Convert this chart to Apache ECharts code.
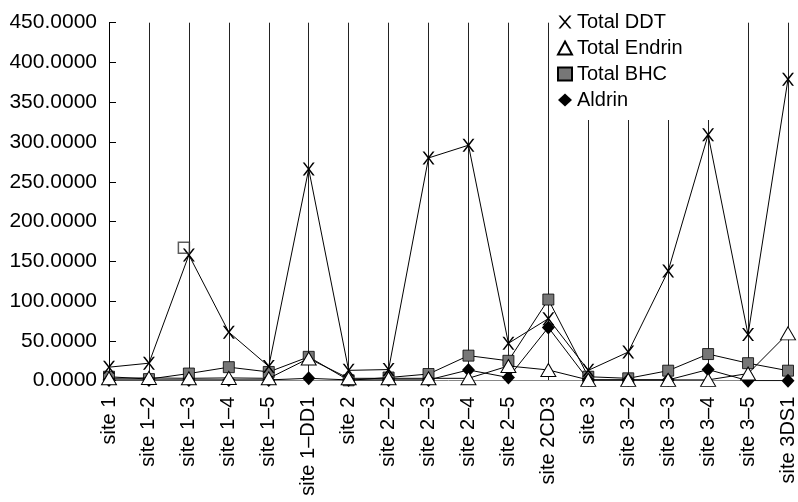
<!DOCTYPE html>
<html>
<head>
<meta charset="utf-8">
<script src="https://cdn.jsdelivr.net/npm/echarts@6/dist/echarts.min.js"></script>
<style>html,body{margin:0;padding:0;background:#fff}#c{width:798px;height:502px}</style>
</head>
<body>
<div id="c"></div>
<script>
const categories = ['site 1','site 1–2','site 1–3','site 1–4','site 1–5','site 1–DD1','site 2','site 2–2','site 2–3','site 2–4','site 2–5','site 2CD3','site 3','site 3–2','site 3–3','site 3–4','site 3–5','site 3DS1'];
const totalDDT    = [17, 22, 158, 61, 18, 266, 13, 14, 280, 296, 47, 78, 13, 36, 138, 309, 58, 379];
const totalEndrin = [3, 3.5, 3, 3.5, 3, 28, 3, 3, 3, 3, 18.5, 13.5, 1, 1, 1, 1, 9, 59.5];
const totalBHC    = [5, 2, 9, 17, 11, 30, 0.5, 4, 8.4, 31.5, 25, 102, 5, 3, 12.6, 33.5, 22, 12.6];
const aldrin      = [1, 1, 1, 1, 1, 3, 1, 1, 1, 13.5, 4, 67, 1, 1, 1, 14, 0, 0];
const extraPoint  = [null, null, 167, null, null, null, null, null, null, null, null, null, null, null, null, null, null, null];
const yTicks = [0, 50, 100, 150, 200, 250, 300, 350, 400, 450];

const FONT = 'Liberation Sans, Arial, Helvetica, sans-serif';
const XPATH = 'path://M0,0L1.6,0L5,4.1L8.4,0L10,0L5.8,5L10,10L8.4,10L5,5.9L1.6,10L0,10L4.2,5Z';

const chart = echarts.init(document.getElementById('c'), null, {renderer: 'canvas'});
chart.setOption({
  animation: false,
  backgroundColor: '#fff',
  grid: {left: 109, right: 6, top: 22.7, bottom: 121.3, containLabel: false},
  legend: {
    orient: 'vertical',
    left: 553, top: 8,
    backgroundColor: '#fff',
    padding: [4, 30, 10, 4],
    itemWidth: 14, itemHeight: 13, itemGap: 6,
    textStyle: {fontFamily: FONT, fontSize: 20, color: '#000', lineHeight: 20},
    data: [
      {name: 'Total DDT', icon: XPATH},
      {name: 'Total Endrin', icon: 'triangle'},
      {name: 'Total BHC', icon: 'rect'},
      {name: 'Aldrin', icon: 'diamond'}
    ],
    z: 10
  },
  xAxis: {
    type: 'category',
    data: categories,
    boundaryGap: false,
    axisLine: {show: true, lineStyle: {color: '#888', width: 1}},
    axisTick: {show: false},
    axisLabel: {rotate: 90, margin: 16, fontFamily: FONT, fontSize: 20, color: '#000', interval: 0},
    splitLine: {show: true, lineStyle: {color: '#222', width: 1}}
  },
  yAxis: {
    type: 'value',
    min: yTicks[0], max: yTicks[yTicks.length - 1], interval: 50,
    axisLine: {show: true, lineStyle: {color: '#000', width: 1}},
    axisTick: {show: true, inside: true, length: 7, lineStyle: {color: '#000'}},
    axisLabel: {formatter: v => v.toFixed(4), margin: 12, fontFamily: FONT, fontSize: 21, color: '#000'},
    splitLine: {show: false}
  },
  series: [
    {name: 'Total DDT', type: 'line', data: totalDDT, symbol: XPATH, symbolSize: [12, 13],
     itemStyle: {color: '#000'}, lineStyle: {color: '#000', width: 1}, z: 4},
    {name: 'Total Endrin', type: 'line', data: totalEndrin, symbol: 'triangle', symbolSize: [15, 13],
     itemStyle: {color: '#fff', borderColor: '#000', borderWidth: 1}, lineStyle: {color: '#000', width: 1}, z: 5},
    {name: 'Total BHC', type: 'line', data: totalBHC, symbol: 'rect', symbolSize: 11,
     itemStyle: {color: '#777', borderColor: '#000', borderWidth: 0.8}, lineStyle: {color: '#000', width: 1}, z: 3},
    {name: 'Aldrin', type: 'line', data: aldrin, symbol: 'diamond', symbolSize: [13, 14],
     itemStyle: {color: '#000'}, lineStyle: {color: '#000', width: 1}, z: 3},
    {name: 'extra', type: 'scatter', data: extraPoint, symbol: 'rect', symbolSize: 11, symbolOffset: [-5, 0],
     itemStyle: {color: 'rgba(0,0,0,0)', borderColor: '#333', borderWidth: 1.5}, z: 4}
  ]
});
</script>
</body>
</html>
